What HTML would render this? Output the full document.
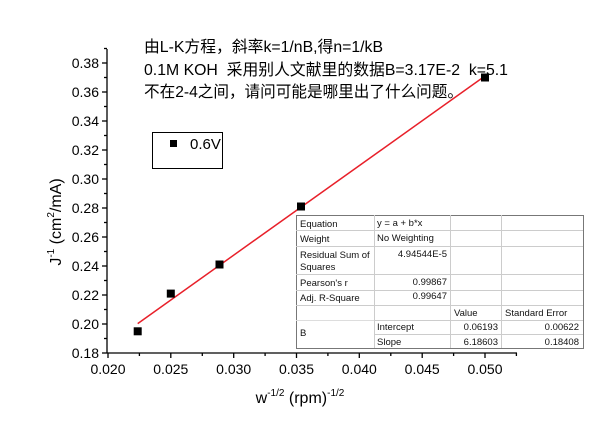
<!DOCTYPE html>
<html><head><meta charset="utf-8"><style>
body{margin:0;background:#fff;}
svg{display:block;font-family:"Liberation Sans","Noto Sans CJK SC",sans-serif;}
</style></head><body>
<svg width="600" height="424" viewBox="0 0 600 424" xmlns="http://www.w3.org/2000/svg">
<rect width="600" height="424" fill="#fff"/>
<g font-size="16" fill="#000">
<text x="144" y="52" textLength="239" lengthAdjust="spacingAndGlyphs">由L-K方程，斜率k=1/nB,得n=1/kB</text>
<text x="144" y="75" textLength="364" lengthAdjust="spacingAndGlyphs">0.1M KOH&#160;&#160;采用别人文献里的数据B=3.17E-2&#160;&#160;k=5.1</text>
<text x="144" y="97" textLength="319" lengthAdjust="spacingAndGlyphs">不在2-4之间，请问可能是哪里出了什么问题。</text>
</g>
<g stroke="#000" stroke-width="1.3">
<line x1="107" y1="49" x2="107" y2="353"/>
<line x1="107" y1="353" x2="517" y2="353"/>
<line x1="102" y1="353" x2="107" y2="353"/><line x1="102" y1="324" x2="107" y2="324"/>
<line x1="102" y1="295" x2="107" y2="295"/><line x1="102" y1="266" x2="107" y2="266"/>
<line x1="102" y1="237" x2="107" y2="237"/><line x1="102" y1="208" x2="107" y2="208"/>
<line x1="102" y1="179" x2="107" y2="179"/><line x1="102" y1="150" x2="107" y2="150"/>
<line x1="102" y1="121" x2="107" y2="121"/><line x1="102" y1="92" x2="107" y2="92"/>
<line x1="102" y1="63" x2="107" y2="63"/>
<line x1="104" y1="338.5" x2="107" y2="338.5"/><line x1="104" y1="309.5" x2="107" y2="309.5"/>
<line x1="104" y1="280.5" x2="107" y2="280.5"/><line x1="104" y1="251.5" x2="107" y2="251.5"/>
<line x1="104" y1="222.5" x2="107" y2="222.5"/><line x1="104" y1="193.5" x2="107" y2="193.5"/>
<line x1="104" y1="164.5" x2="107" y2="164.5"/><line x1="104" y1="135.5" x2="107" y2="135.5"/>
<line x1="104" y1="106.5" x2="107" y2="106.5"/><line x1="104" y1="77.5" x2="107" y2="77.5"/>
<line x1="104" y1="48.5" x2="107" y2="48.5"/>
<line x1="108" y1="353" x2="108" y2="358"/><line x1="170.8" y1="353" x2="170.8" y2="358"/>
<line x1="233.7" y1="353" x2="233.7" y2="358"/><line x1="296.5" y1="353" x2="296.5" y2="358"/>
<line x1="359.3" y1="353" x2="359.3" y2="358"/><line x1="422.2" y1="353" x2="422.2" y2="358"/>
<line x1="485" y1="353" x2="485" y2="358"/>
<line x1="139.4" y1="353" x2="139.4" y2="356"/><line x1="202.3" y1="353" x2="202.3" y2="356"/>
<line x1="265.1" y1="353" x2="265.1" y2="356"/><line x1="327.9" y1="353" x2="327.9" y2="356"/>
<line x1="390.8" y1="353" x2="390.8" y2="356"/><line x1="453.6" y1="353" x2="453.6" y2="356"/>
<line x1="516.4" y1="353" x2="516.4" y2="356"/>
</g>
<g font-size="14" text-anchor="end" fill="#000">
<text x="99" y="358">0.18</text><text x="99" y="329">0.20</text><text x="99" y="300">0.22</text>
<text x="99" y="271">0.24</text><text x="99" y="242">0.26</text><text x="99" y="213">0.28</text>
<text x="99" y="184">0.30</text><text x="99" y="155">0.32</text><text x="99" y="126">0.34</text>
<text x="99" y="97">0.36</text><text x="99" y="68">0.38</text>
</g>
<g font-size="14" text-anchor="middle" fill="#000">
<text x="108" y="374">0.020</text><text x="170.8" y="374">0.025</text><text x="233.7" y="374">0.030</text>
<text x="296.5" y="374">0.035</text><text x="359.3" y="374">0.040</text><text x="422.2" y="374">0.045</text>
<text x="485" y="374">0.050</text>
</g>
<text x="300" y="403" font-size="16" text-anchor="middle">w<tspan font-size="10" dy="-7">-1/2</tspan><tspan dy="7"> (rpm)</tspan><tspan font-size="10" dy="-7">-1/2</tspan></text>
<text transform="translate(61,222) rotate(-90)" font-size="16" text-anchor="middle">J<tspan font-size="10" dy="-7">-1</tspan><tspan dy="7"> (cm</tspan><tspan font-size="10" dy="-7">2</tspan><tspan dy="7">/mA)</tspan></text>
<line x1="137.7" y1="323.6" x2="485" y2="76" stroke="#e8202a" stroke-width="1.5"/>
<g fill="#000">
<rect x="133.7" y="327.3" width="8" height="8"/>
<rect x="166.8" y="289.6" width="8" height="8"/>
<rect x="215.5" y="260.5" width="8" height="8"/>
<rect x="297" y="202.5" width="8" height="8"/>
<rect x="481" y="73.5" width="8" height="8"/>
</g>
<rect x="152.5" y="132.5" width="70" height="36" fill="#fff" stroke="#000" stroke-width="1"/>
<rect x="170" y="140" width="7" height="7" fill="#000"/>
<text x="190" y="149" font-size="15">0.6V</text>
<g>
<rect x="296.5" y="215.5" width="287" height="133" fill="#fff" stroke="#777" stroke-width="1"/>
<g stroke="#ccc" stroke-width="1">
<line x1="296" y1="230.5" x2="583" y2="230.5"/><line x1="296" y1="246.5" x2="583" y2="246.5"/>
<line x1="296" y1="274.5" x2="583" y2="274.5"/><line x1="296" y1="290.5" x2="583" y2="290.5"/>
<line x1="296" y1="305.5" x2="583" y2="305.5"/><line x1="374" y1="320.5" x2="583" y2="320.5"/>
<line x1="296" y1="320.5" x2="374" y2="320.5" stroke="#ddd"/>
<line x1="374" y1="334.5" x2="583" y2="334.5"/>
<line x1="374.5" y1="215" x2="374.5" y2="348"/><line x1="450.5" y1="215" x2="450.5" y2="348"/>
<line x1="501.5" y1="215" x2="501.5" y2="348"/>
</g>
<g font-size="9.5" fill="#111">
<text x="300" y="227">Equation</text><text x="377" y="226">y = a + b*x</text>
<text x="300" y="242">Weight</text><text x="377" y="241">No Weighting</text>
<text x="300" y="258">Residual Sum of</text><text x="300" y="270">Squares</text>
<text x="447" y="257" text-anchor="end">4.94544E-5</text>
<text x="300" y="286">Pearson's r</text><text x="447" y="285" text-anchor="end">0.99867</text>
<text x="300" y="301">Adj. R-Square</text><text x="447" y="299" text-anchor="end">0.99647</text>
<text x="454" y="316">Value</text><text x="505" y="316">Standard Error</text>
<text x="300" y="336">B</text>
<text x="377" y="330">Intercept</text><text x="498" y="330" text-anchor="end">0.06193</text><text x="579" y="330" text-anchor="end">0.00622</text>
<text x="377" y="345">Slope</text><text x="498" y="345" text-anchor="end">6.18603</text><text x="579" y="345" text-anchor="end">0.18408</text>
</g>
</g>
</svg>
</body></html>
